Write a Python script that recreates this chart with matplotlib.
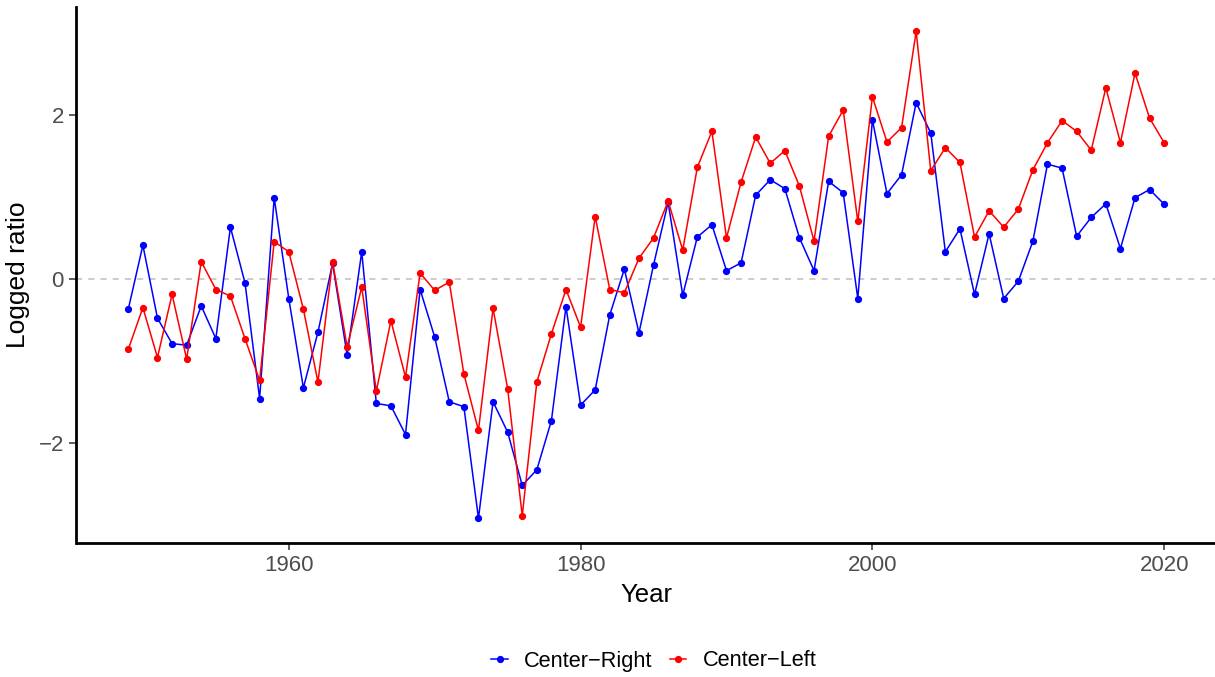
import numpy as np
import matplotlib.pyplot as plt
from matplotlib.lines import Line2D

plt.rcParams['font.family'] = ['Liberation Sans', 'DejaVu Sans']

# Tahun pengamatan
years = list(range(1949, 2021))

# Logged ratio, Center-Right (biru)
center_right = [
    -0.37, 0.41, -0.48, -0.79, -0.81, -0.33, -0.73, 0.63, -0.05, -1.46,
    0.99, -0.24, -1.33, -0.65, 0.19, -0.93, 0.33, -1.52, -1.55, -1.90,
    -0.13, -0.71, -1.50, -1.56, -2.92, -1.50, -1.87, -2.52, -2.33, -1.73,
    -0.34, -1.54, -1.355, -0.44, 0.12, -0.66, 0.17, 0.935, -0.20, 0.51,
    0.66, 0.10, 0.195, 1.02, 1.21, 1.10, 0.50, 0.10, 1.19, 1.05,
    -0.24, 1.94, 1.04, 1.27, 2.15, 1.78, 0.33, 0.61, -0.19, 0.55,
    -0.24, -0.03, 0.46, 1.40, 1.35, 0.52, 0.75, 0.915, 0.37, 0.99,
    1.09, 0.91,
]

# Logged ratio, Center-Left (merah)
center_left = [
    -0.86, -0.35, -0.96, -0.19, -0.98, 0.21, -0.13, -0.21, -0.73, -1.24,
    0.455, 0.33, -0.37, -1.26, 0.21, -0.83, -0.10, -1.37, -0.51, -1.20,
    0.07, -0.14, -0.04, -1.16, -1.85, -0.36, -1.34, -2.89, -1.26, -0.67,
    -0.13, -0.59, 0.76, -0.13, -0.17, 0.25, 0.50, 0.95, 0.35, 1.36,
    1.80, 0.50, 1.18, 1.73, 1.41, 1.565, 1.13, 0.46, 1.74, 2.06,
    0.70, 2.22, 1.67, 1.845, 3.02, 1.32, 1.60, 1.42, 0.51, 0.83,
    0.63, 0.85, 1.33, 1.66, 1.93, 1.80, 1.57, 2.33, 1.66, 2.51,
    1.96, 1.66,
]

labels = ['Center\u2212Right', 'Center\u2212Left']
colors = ['#0000FF', '#FF0000']

fig = plt.figure(figsize=(12.15, 6.77), dpi=100)
ax = fig.add_axes([76.5 / 1215, 134.5 / 677, 1139.5 / 1215, 535.5 / 677])

ax.axhline(0, color='#BEBEBE', linestyle=(0, (4, 4)), linewidth=1.1, zorder=1)

for serie, warna in zip([center_right, center_left], colors):
    ax.plot(years, serie, color=warna, linewidth=1.1, marker='o',
            markersize=4.2, zorder=3)

# Rentang sumbu seperti ggplot (ekspansi 5%)
x_min, x_max = min(years), max(years)
dx = (x_max - x_min) * 0.05
ax.set_xlim(x_min - dx, x_max + dx)
y_all = center_right + center_left
y_min, y_max = min(y_all), max(y_all)
dy = (y_max - y_min) * 0.05
ax.set_ylim(y_min - dy, y_max + dy)

ax.set_xticks([1960, 1980, 2000, 2020])
ax.set_yticks([-2, 0, 2])
ax.tick_params(axis='both', labelsize=16, labelcolor='#4D4D4D', color='#333333',
               length=5, width=1.1, direction='out', pad=4)

for s in ['top', 'right']:
    ax.spines[s].set_visible(False)
for s in ['left', 'bottom']:
    ax.spines[s].set_linewidth(2.0)
    ax.spines[s].set_color('black')

ax.set_xlabel('Year', fontsize=18.5, labelpad=5)
ax.set_ylabel('Logged ratio', fontsize=19, labelpad=6)

handles = [Line2D([0], [0], color=c, linewidth=1.1, marker='o', markersize=4.2)
           for c in colors]
fig.legend(handles, labels, loc='center', bbox_to_anchor=(654 / 1215, 16 / 677),
           ncol=2, frameon=False, fontsize=15.7, handlelength=0.75,
           handletextpad=0.75, columnspacing=0.8)

plt.savefig('out.png', dpi=100)
